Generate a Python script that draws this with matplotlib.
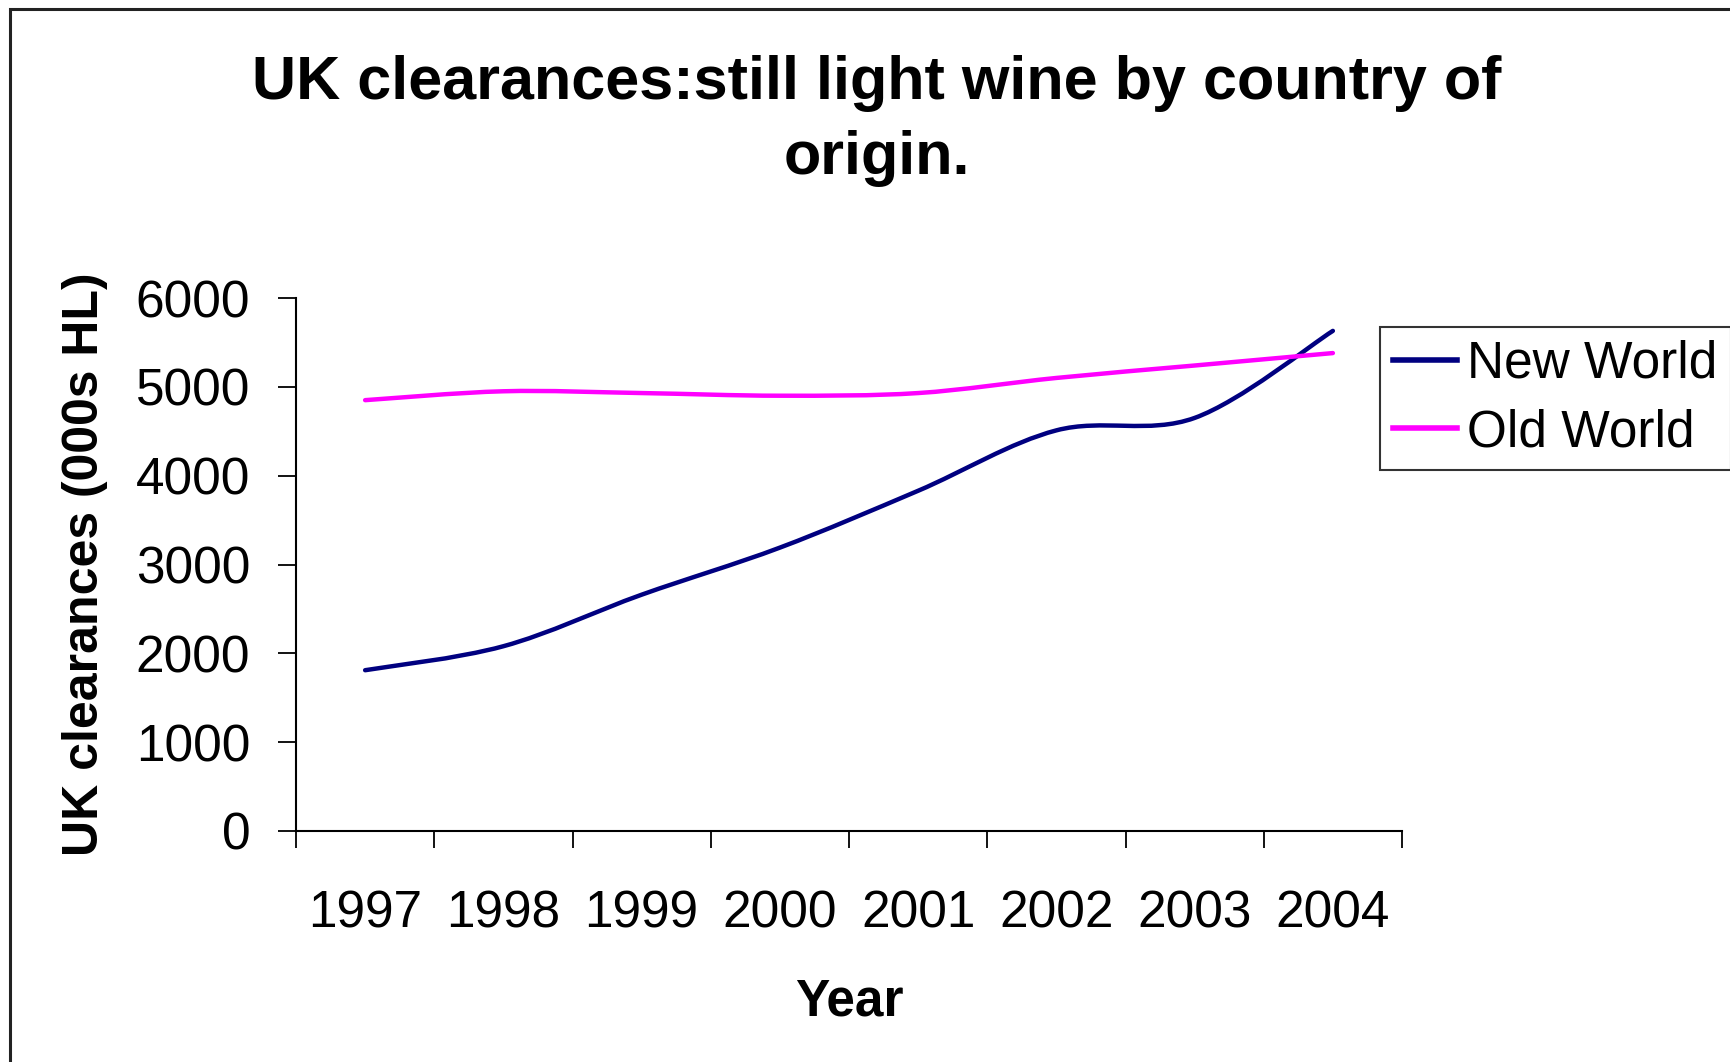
import matplotlib
matplotlib.use("Agg")
import matplotlib.pyplot as plt
import numpy as np
from matplotlib.path import Path
from matplotlib.patches import PathPatch, Rectangle
from matplotlib.lines import Line2D

years = ["1997", "1998", "1999", "2000", "2001", "2002", "2003", "2004"]
new_world = [1810, 2080, 2660, 3190, 3830, 4510, 4650, 5630]
old_world = [4850, 4950, 4930, 4900, 4930, 5100, 5240, 5380]

plt.rcParams["font.family"] = ["Liberation Sans", "DejaVu Sans"]


def smooth_path(xs, ys):
    # Excel style smoothed line: cubic bezier through every point
    p = np.column_stack([xs, ys]).astype(float)
    n = len(p)
    verts = [p[0]]
    codes = [Path.MOVETO]
    for i in range(n - 1):
        prev = p[i - 1] if i > 0 else p[i]
        nxt = p[i + 2] if i + 2 < n else p[i + 1]
        c1 = p[i] + (p[i + 1] - prev) / 6
        c2 = p[i + 1] - (nxt - p[i]) / 6
        verts += [c1, c2, p[i + 1]]
        codes += [Path.CURVE4] * 3
    return Path(verts, codes)


fig = plt.figure(figsize=(17.31, 10.62), dpi=100)
ax = fig.add_axes([296 / 1731, 1 - 831 / 1062, (1402 - 296) / 1731, (831 - 298) / 1062])

x = np.arange(len(years))
ax.add_patch(PathPatch(smooth_path(x, new_world), fill=False, edgecolor="#000080", lw=3.2, capstyle="round"))
ax.add_patch(PathPatch(smooth_path(x, old_world), fill=False, edgecolor="#FF00FF", lw=3.2, capstyle="round"))

ax.set_xlim(-0.5, len(years) - 0.5)
ax.set_ylim(0, 6000)
ax.spines["top"].set_visible(False)
ax.spines["right"].set_visible(False)
ax.spines["left"].set_linewidth(1.5)
ax.spines["bottom"].set_linewidth(1.5)

ax.set_yticks(np.arange(0, 6001, 1000))
ax.tick_params(axis="y", length=13, width=1.3, pad=20, labelsize=37)
ax.set_xticks(np.arange(-0.5, len(years)), labels=[])
ax.set_xticks(x, labels=years, minor=True)
ax.tick_params(axis="x", which="major", length=12, width=1.3)
ax.tick_params(axis="x", which="minor", length=0, pad=42, labelsize=37)

ax.set_xlabel("Year", fontsize=37, fontweight="bold", labelpad=28)
ax.set_ylabel("UK clearances (000s HL)", fontsize=36, fontweight="bold", labelpad=20)

fig.text(877 / 1731, 1 - 55 / 1062, "UK clearances:still light wine by country of\norigin.",
         ha="center", va="top", fontsize=44, fontweight="bold", linespacing=1.42)

handles = [Line2D([], [], color="#000080", lw=4), Line2D([], [], color="#FF00FF", lw=4)]
leg = fig.legend(handles, ["New World", "Old World"], loc="upper left",
                 bbox_to_anchor=(1380 / 1731, 1 - 327 / 1062), fontsize=37,
                 frameon=True, fancybox=False, handlelength=1.25, handletextpad=0.2,
                 borderpad=0.25, labelspacing=0.38, borderaxespad=0)
leg.get_frame().set_edgecolor("black")
leg.get_frame().set_linewidth(1.5)

fig.add_artist(Rectangle((10 / 1731, -0.1), 1.2, 1 - 9 / 1062 + 0.1, transform=fig.transFigure,
                         fill=False, edgecolor="#222222", lw=2.2))

fig.savefig("out.png", dpi=100)
